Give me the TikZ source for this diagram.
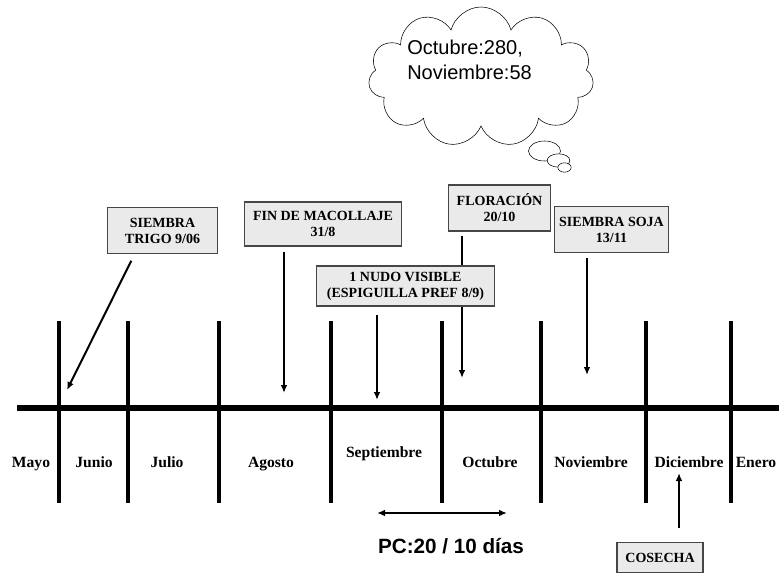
\documentclass[tikz,border=0pt]{standalone}
\usepackage{fontspec}
\setmainfont{Liberation Serif}
\newfontfamily\arialfont{Liberation Sans}
\usetikzlibrary{arrows.meta,positioning,shapes.geometric,shapes.symbols,calc}
\pgfdeclarelayer{fondo}
\pgfsetlayers{fondo,main}
\definecolor{linegray}{RGB}{70,70,70}
\definecolor{softgray}{RGB}{234,234,234}
\tikzset{
  box/.style={
    draw=linegray,
    line width=0.8pt,
    align=center,
    fill=softgray,
    inner sep=2pt,
    font=\fontsize{10.5}{12}\selectfont\bfseries
  },
  month/.style={anchor=base, font=\fontsize{11.7}{14}\selectfont\bfseries},
  tick/.style={line width=2.5pt},
  flow/.style={-{Latex[length=6pt,width=5pt]}, line width=1.5pt, draw=black},
  bubble/.style={ellipse, draw, fill=white, inner sep=0pt}
}
\begin{document}
\begin{tikzpicture}[x=0.75pt, y=-0.75pt]
        \useasboundingbox (0,0) rectangle (780,577);
        % eje de tiempo
        \draw[line width=3.8pt] (17,408) -- (779,408);
        \draw[tick] (59,321) -- (59,503);
        \draw[tick] (128,321) -- (128,503);
        \draw[tick] (219,321) -- (219,503);
        \draw[tick] (331,321) -- (331,503);
        \draw[tick] (442,321) -- (442,503);
        \draw[tick] (541,321) -- (541,503);
        \draw[tick] (646,321) -- (646,503);
        \draw[tick] (731,321) -- (731,503);
        % meses
        \node[month] (mayo) at (31,467) {Mayo};
        \node[month] (junio) at (94,467) {Junio};
        \node[month] (julio) at (167,467) {Julio};
        \node[month] (agosto) at (271,467) {Agosto};
        \node[month] (sept) at (384,457) {Septiembre};
        \node[month] (oct) at (490,467) {Octubre};
        \node[month] (nov) at (591,467) {Noviembre};
        \node[month] (dic) at (689,467) {Diciembre};
        \node[month] (ene) at (756,467) {Enero};
        % etapas
        \node[box, minimum width=82pt, minimum height=34pt] (trigo) at (162.5,230.5) {SIEMBRA\\TRIGO 9/06};
        \node[box, minimum width=118pt, minimum height=33pt] (fin) at (323,224) {FIN DE MACOLLAJE\\31/8};
        \node[box, minimum width=133pt, minimum height=30pt] (nudo) at (405.5,286) {1 NUDO VISIBLE\\(ESPIGUILLA PREF 8/9)};
        \node[box, minimum width=77pt, minimum height=34.5pt] (flor) at (499.5,208) {FLORACIÓN\\20/10};
        \node[box, minimum width=86pt, minimum height=34pt] (soja) at (611.5,229.5) {SIEMBRA SOJA\\13/11};
        \node[box, minimum width=64.5pt, minimum height=22pt] (cosecha) at (660,557.5) {COSECHA};
        \coordinate (trigofl) at (67,390);
        \coordinate (finfl) at (284,393);
        \coordinate (nudofl) at (377,400);
        \coordinate (florfl) at (462,378);
        \coordinate (sojafl) at (587,375);
        \coordinate (cosechafl) at (679,473);
        \draw[flow] ($(trigo.south west)+(24,7)$) -- (trigofl);
        \draw[flow, shorten <=4pt] (fin.south -| finfl) -- (finfl);
        \draw[flow, shorten <=6.5pt] (nudo.south -| nudofl) -- (nudofl);
        \begin{pgfonlayer}{fondo}
          \draw[flow, shorten <=3pt] (flor.south -| florfl) -- (florfl);
        \end{pgfonlayer}
        \draw[flow, shorten <=4pt] (soja.south -| sojafl) -- (sojafl);
        \draw[flow, shorten <=11pt] (cosecha.north -| cosechafl) -- (cosechafl);
        % periodo critico
        \coordinate (pcizq) at (377,513);
        \coordinate (pcder) at (507,513);
        \draw[{Latex[length=6pt,width=5pt]}-{Latex[length=6pt,width=5pt]}, line width=1.5pt] (pcizq) -- (pcder);
        \node[font=\arialfont\fontsize{15.5}{18}\selectfont\bfseries] (pc) at (451,546) {PC:20 / 10 días};
        % nube
        \node[cloud, cloud puffs=11, cloud ignores aspect, draw, thin, minimum width=169pt, minimum height=105pt] (nube) at (481,77) {};
        \node[font=\arialfont\fontsize{15}{18.75}\selectfont, align=left, anchor=north west, inner sep=0pt] (nubetxt) at (407,40) {Octubre:280,\\Noviembre:58};
        \node[bubble, minimum width=24pt, minimum height=15pt] (b1) at (544.5,151) {};
        \node[bubble, minimum width=17pt, minimum height=10pt] (b2) at (558.5,160.5) {};
        \node[bubble, minimum width=10pt, minimum height=7pt] (b3) at (564.5,167.5) {};
      \end{tikzpicture}
\end{document}
